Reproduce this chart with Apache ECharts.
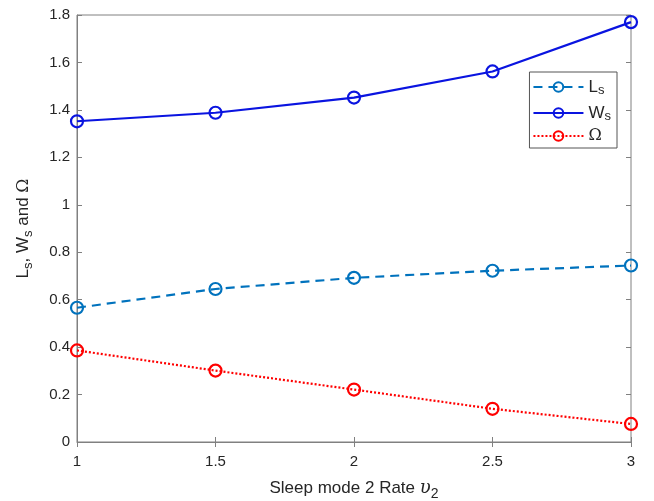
<!DOCTYPE html>
<html><head><meta charset="utf-8">
<script src="https://cdn.jsdelivr.net/npm/echarts@6/dist/echarts.min.js"></script>
<style>html,body{margin:0;padding:0;background:#fff}#c{width:654px;height:501px}</style>
</head><body><div id="c"></div>
<script>
const xValues = [1, 1.5, 2, 2.5, 3];
const Ls = [0.566, 0.645, 0.692, 0.722, 0.744];
const Ws = [1.352, 1.388, 1.452, 1.562, 1.770];
const Omega = [0.386, 0.301, 0.221, 0.140, 0.076];

const chart = echarts.init(document.getElementById('c'));
const axisGrey = '#808080';
const txt = '#262626';
const font = 'Liberation Sans, Arial, sans-serif';
const rich = {
  m: {fontSize: 17, color: txt, fontFamily: font},
  s: {fontSize: 13, color: txt, fontFamily: font, verticalAlign: 'bottom', padding: [10, 0, 0, 0]},
  g: {fontSize: 17, color: txt, fontFamily: 'DejaVu Serif, serif'}
};
const legendRich = {
  m: {fontSize: 17, color: txt, fontFamily: font, lineHeight: 20},
  s: {fontSize: 13, color: txt, fontFamily: font, verticalAlign: 'bottom', padding: [8, 0, 0, 0], lineHeight: 20},
  g: {fontSize: 16, color: txt, fontFamily: 'DejaVu Serif, serif', lineHeight: 20}
};
const pairs = v => xValues.map((x, i) => [x, v[i]]);
function mk(name, data, color, type) {
  return {
    name, type: 'line', data: pairs(data),
    symbol: 'circle', symbolSize: 12, showSymbol: true,
    itemStyle: {color: 'rgba(255,255,255,0)', borderColor: color, borderWidth: 2.2},
    lineStyle: {color, width: 2.2, type},
    emphasis: {disabled: true}, animation: false, xAxisIndex: 0, yAxisIndex: 0
  };
}
chart.setOption({
  animation: false,
  grid: {left: 77, right: 23, top: 15, bottom: 59, show: true, borderColor: axisGrey, borderWidth: 1,
         outerBoundsMode: 'none', containLabel: false},
  legend: {
    orient: 'vertical', right: 37, top: 72,
    itemWidth: 50, itemHeight: 12, itemGap: 5,
    borderColor: '#555', borderWidth: 1, padding: [4, 6, 4, 3],
    backgroundColor: '#fff',
    data: ['Ls', 'Ws', 'Omega'],
    formatter: n => n === 'Ls' ? '{m|L}{s|s}' : n === 'Ws' ? '{m|W}{s|s}' : '{g|Ω}',
    textStyle: {rich: legendRich}
  },
  xAxis: [{
    type: 'value', min: 1, max: 3, interval: 0.5,
    axisLine: {lineStyle: {color: axisGrey}},
    axisTick: {inside: true, length: 5, lineStyle: {color: axisGrey}},
    splitLine: {show: false},
    axisLabel: {color: txt, fontSize: 15, fontFamily: font, margin: 12},
    name: '{m|Sleep mode 2 Rate }{u|υ}{s|2}', nameLocation: 'middle', nameGap: 33,
    nameTextStyle: {rich: {
      m: {fontSize: 17, color: txt, fontFamily: font},
      u: {fontSize: 18, color: txt, fontFamily: 'DejaVu Serif, serif', fontStyle: 'italic'},
      s: {fontSize: 14, color: txt, fontFamily: font, verticalAlign: 'bottom', padding: [12, 0, 0, 0]}
    }}
  }, {
    type: 'value', min: 1, max: 3, interval: 0.5, position: 'top',
    axisLine: {show: false}, axisLabel: {show: false}, splitLine: {show: false},
    axisTick: {inside: true, length: 5, lineStyle: {color: axisGrey}}
  }],
  yAxis: [{
    type: 'value', min: 0, max: 1.8, interval: 0.2,
    axisLine: {show: true, lineStyle: {color: axisGrey}},
    axisTick: {show: true, inside: true, length: 5, lineStyle: {color: axisGrey}},
    splitLine: {show: false},
    axisLabel: {color: txt, fontSize: 15, fontFamily: font, margin: 7},
    name: '{m|L}{s|s}{m|, W}{s|s}{m| and }{g|Ω}', nameLocation: 'middle', nameGap: 42, nameRotate: 90,
    nameTextStyle: {rich}
  }, {
    type: 'value', min: 0, max: 1.8, interval: 0.2, position: 'right',
    axisLine: {show: false}, axisLabel: {show: false}, splitLine: {show: false},
    axisTick: {show: true, inside: true, length: 5, lineStyle: {color: axisGrey}}
  }],
  series: [
    mk('Ls', Ls, '#0072BD', [9, 6]),
    mk('Ws', Ws, '#0A14E0', 'solid'),
    mk('Omega', Omega, '#FF0000', [2, 2])
  ]
});
</script></body></html>
